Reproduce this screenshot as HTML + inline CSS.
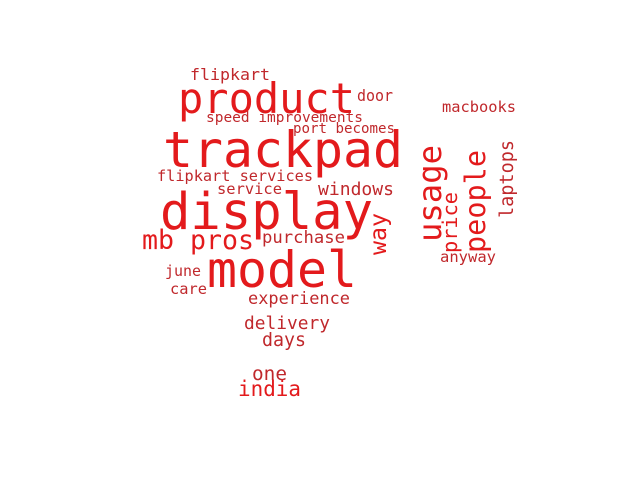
<!DOCTYPE html>
<html><head><meta charset="utf-8"><style>
html,body{margin:0;padding:0;background:#fff;width:640px;height:480px;overflow:hidden}
text{font-family:"DejaVu Sans Mono","Liberation Mono",monospace}
</style></head><body>
<svg id="cloud" width="640" height="480" viewBox="0 0 640 480" xmlns="http://www.w3.org/2000/svg"></svg>
<script>
const words = ["flipkart","product","door","speed improvements","port becomes","trackpad","flipkart services","service","windows","display","mb pros","purchase","way","model","june","care","experience","delivery","days","one","india","usage","price","people","laptops","macbooks","anyway"];
const weights = [16,42,16,14.5,14,50,15.2,15.4,18,50.5,26.6,17.2,23,50,15,15,17,17.8,18.3,19,21,32,20,28.5,18.5,15.4,15.5];
const xs = [190,178,357,206,293,163,157,217,318,160,142,262,386,207,165,170,248,244,262,252,238,441,457,485,513,442,440];
const ys = [80,113,101,122,133,167,181,194,195,229,249,243,255,287,276,294,304,329,346,380,396,242,253,253,218,112,262];
const lens = [80,177,36,157,102,240,156,65,76,213,112,83,42,150,36,37,102,86,44,35,63,97,61,103,78,74,56];
const vertical = [0,0,0,0,0,0,0,0,0,0,0,0,1,0,0,0,0,0,0,0,0,1,1,1,1,0,0];
const svg = document.getElementById('cloud');
const NS = 'http://www.w3.org/2000/svg';
for (let i = 0; i < words.length; i++) {
  const t = document.createElementNS(NS, 'text');
  
  
  t.setAttribute('x', xs[i]);
  t.setAttribute('y', ys[i]);
  t.setAttribute('font-size', weights[i]);
  t.setAttribute('textLength', lens[i]);
  t.setAttribute('lengthAdjust', 'spacingAndGlyphs');
  t.setAttribute('fill', weights[i] >= 20 ? '#e31a1c' : '#c0282c');
  if (vertical[i]) {
    t.setAttribute('x', 0); t.setAttribute('y', 0);
    t.setAttribute('transform', 'translate(' + xs[i] + ',' + ys[i] + ') rotate(-90)');
  }
  t.textContent = words[i];
  svg.appendChild(t);
}
</script>
</body></html>
